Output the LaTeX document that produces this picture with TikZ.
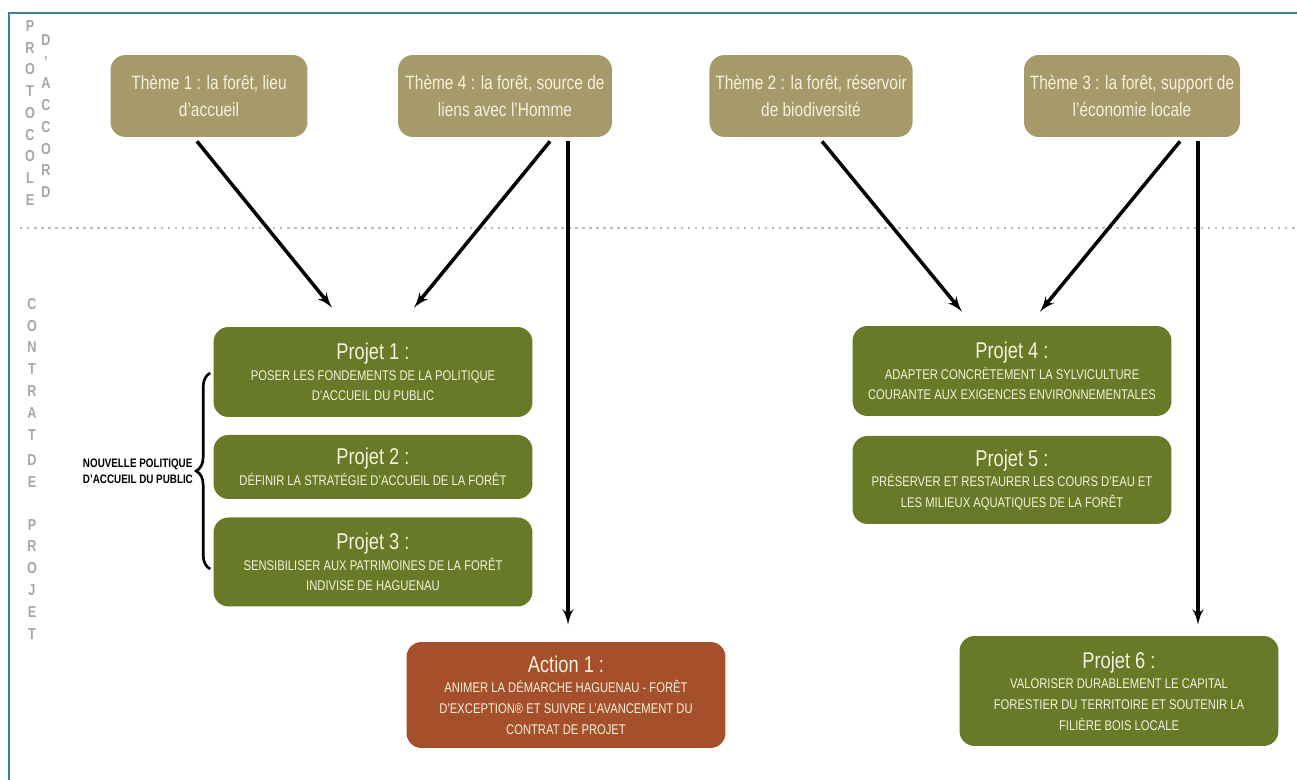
\documentclass[tikz,border=0pt]{standalone}
\usepackage{fontspec}
\setmainfont[FakeStretch=0.8]{Liberation Sans}
\usetikzlibrary{shapes,arrows,positioning,calc,decorations.pathreplacing}
\definecolor{themebrun}{HTML}{A69A6B}
\definecolor{projetvert}{HTML}{687A27}
\definecolor{actionrouge}{HTML}{A5502A}
\definecolor{cadrebleu}{HTML}{3F7F97}
\definecolor{textecreme}{HTML}{F4F1DC}
\newcommand{\titre}[1]{{\fontsize{13}{17}\selectfont #1}}

\begin{document}
\begin{tikzpicture}[x=0.02cm, y=-0.02cm, node distance = 1.9cm, auto]
        \tikzstyle{theme} = [rectangle, fill=themebrun, text=textecreme, align=center, rounded corners=0.3cm, minimum width=3.94cm, minimum height=1.64cm, font=\fontsize{11}{15}\selectfont]
        \tikzstyle{projet} = [rectangle, fill=projetvert, text=textecreme, align=center, rounded corners=0.3cm, minimum width=6.38cm, inner sep=0pt, font=\fontsize{8}{11.8}\selectfont]
        \tikzstyle{action} = [projet, fill=actionrouge]
        \tikzstyle{cote} = [text=gray!70, align=center, inner sep=0pt, font=\bfseries\fontsize{9}{12.4}\selectfont]
        \tikzstyle{accolade} = [align=left, inner sep=0pt, font=\bfseries\fontsize{7}{9}\selectfont]
        \tikzstyle{line} = [draw, line width=2pt, -latex']

        \fill [white] (0,0) rectangle (1297,780);
        \useasboundingbox (0,0) rectangle (1297,780);
        \draw [cadrebleu, line width=1.6pt] (9,780) -- (9,13) -- (1297,13);
        \draw [gray!55, line width=1.6pt, dash pattern=on 1.4pt off 2.6pt] (20,228) -- (1297,228);

        \node [cote, anchor=north] (protocole) at (30,20) {P\\R\\O\\T\\O\\C\\O\\L\\E};
        \node [cote, anchor=north] (accord) at (46,34) {D\\'\\A\\C\\C\\O\\R\\D};
        \node [cote, anchor=north] (contrat) at (32,298) {C\\O\\N\\T\\R\\A\\T\\[2pt]D\\E\\[12pt]P\\R\\O\\J\\E\\T};

        \node [theme] (theme1) at (209,96) {Thème 1 : la forêt, lieu\\d'accueil};
        \node [theme, minimum width=4.28cm] (theme4) at (505,96) {Thème 4 : la forêt, source de\\liens avec l'Homme};
        \node [theme] (theme2) at (811,96) {Thème 2 : la forêt, réservoir\\de biodiversité};
        \node [theme, minimum width=4.3cm] (theme3) at (1132,96) {Thème 3 : la forêt, support de\\l'économie locale};

        \node [projet, minimum height=1.8cm] (projet1) at (373,372) {\titre{Projet 1 :}\\POSER LES FONDEMENTS DE LA POLITIQUE\\D'ACCUEIL DU PUBLIC};
        \node [projet, below of=projet1, minimum height=1.28cm] (projet2) {\titre{Projet 2 :}\\DÉFINIR LA STRATÉGIE D'ACCUEIL DE LA FORÊT};
        \node [projet, below of=projet2, minimum height=1.78cm] (projet3) {\titre{Projet 3 :}\\SENSIBILISER AUX PATRIMOINES DE LA FORÊT\\INDIVISE DE HAGUENAU};
        \node [projet, minimum height=1.8cm] (projet4) at (1012,371) {\titre{Projet 4 :}\\ADAPTER CONCRÈTEMENT LA SYLVICULTURE\\COURANTE AUX EXIGENCES ENVIRONNEMENTALES};
        \node [projet, below of=projet4, node distance=2.18cm, minimum height=1.76cm] (projet5) {\titre{Projet 5 :}\\PRÉSERVER ET RESTAURER LES COURS D'EAU ET\\LES MILIEUX AQUATIQUES DE LA FORÊT};
        \node [action, minimum height=2.12cm] (action1) at (566,695) {\titre{Action 1 :}\\ANIMER LA DÉMARCHE HAGUENAU - FORÊT\\D'EXCEPTION® ET SUIVRE L'AVANCEMENT DU\\CONTRAT DE PROJET};
        \node [projet, minimum height=2.2cm] (projet6) at (1119,691) {\titre{Projet 6 :}\\VALORISER DURABLEMENT LE CAPITAL\\FORESTIER DU TERRITOIRE ET SOUTENIR LA\\FILIÈRE BOIS LOCALE};

        \coordinate (theme4bas) at ($(theme4.south)+(63,4)$);
        \coordinate (theme3bas) at ($(theme3.south)+(66,4)$);

        \path [line] ($(theme1.south)+(-12,4)$) -- ($(projet1.north)+(-41,-19)$);
        \path [line] ($(theme4.south)+(45,4)$) -- ($(projet1.north)+(41,-19)$);
        \path [line, shorten >=0.34cm] (theme4bas) -- (theme4bas |- action1.north);
        \path [line] ($(theme2.south)+(11,4)$) -- ($(projet4.north)+(-50,-14)$);
        \path [line] ($(theme3.south)+(48,4)$) -- ($(projet4.north)+(28,-14)$);
        \path [line, shorten >=0.22cm] (theme3bas) -- (theme3bas |- projet6.north);

        \draw [decorate, decoration={brace, amplitude=0.28cm}, line width=1.5pt] ($(projet3.west)+(-3,7)$) -- node [accolade, left=0.32cm] (accueil) {NOUVELLE POLITIQUE\\D'ACCUEIL DU PUBLIC} ($(projet1.west)+(-3,1)$);

    \end{tikzpicture}
\end{document}
